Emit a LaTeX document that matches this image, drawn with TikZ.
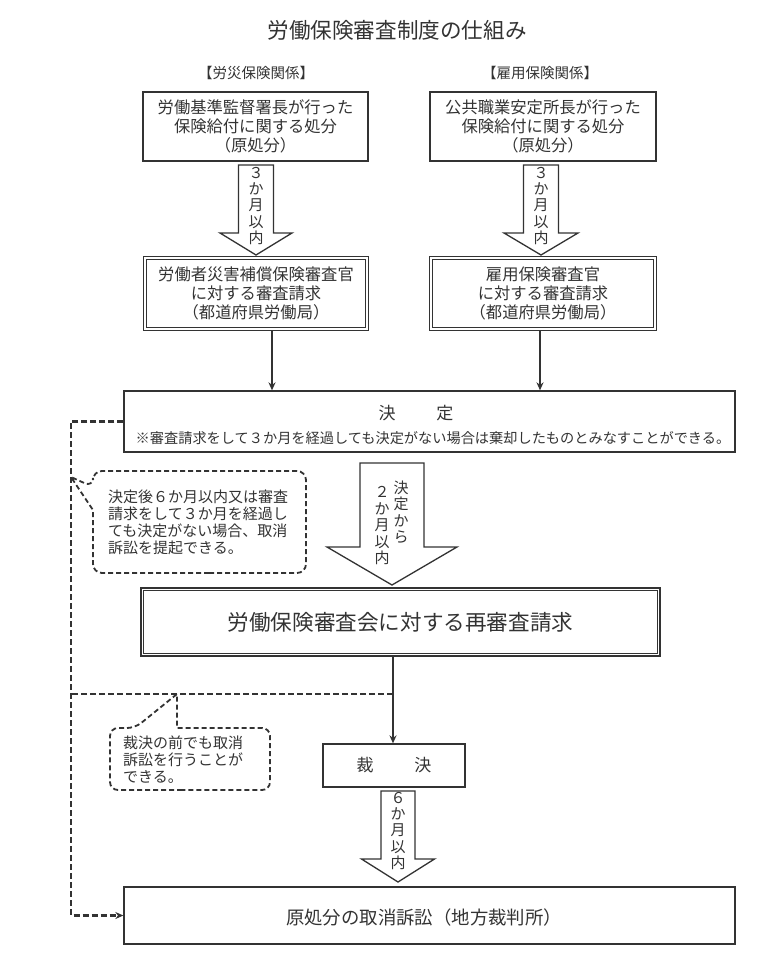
\documentclass[tikz,border=0pt]{standalone}
\usepackage{fontspec}
\setmainfont{Noto Sans CJK JP}
\usetikzlibrary{arrows.meta,calc}
\definecolor{ink}{gray}{0.2}
\tikzset{
 box/.style={draw=ink, line width=1.3pt, inner sep=0pt, align=center, text=ink},
 dbox/.style={draw=ink, line width=1.5pt, inner sep=0pt, align=center, text=ink},
 inner/.style={draw=ink, line width=1pt},
 blk/.style={draw=ink, line width=1.3pt, fill=white, line join=miter},
 conn/.style={draw=ink, line width=2.4pt, -{Stealth[length=8pt,width=7pt]}},
 dashline/.style={draw=ink, line width=2.2pt, dash pattern=on 6pt off 3pt},
 dasharrow/.style={dashline, -{Stealth[length=8pt,width=7pt]}},
 callout/.style={draw=ink, line width=1.8pt, dash pattern=on 5pt off 3pt},
 lbl/.style={inner sep=0pt, text=ink, align=center},
 note/.style={inner sep=0pt, text=ink, align=left, font=\fontsize{15}{17}\selectfont},
 vtext/.style={inner sep=0pt, text=ink, align=center, font=\fontsize{15}{16.3}\selectfont},
 boxfont/.style={font=\fontsize{16.3}{19}\selectfont},
}
\newcommand\blkarrow[6]{%
 \draw[blk] (#1-#4,#2) -- (#1+#4,#2) -- (#1+#4,#3-#6) -- (#1+#5,#3-#6) -- (#1,#3) -- (#1-#5,#3-#6) -- (#1-#4,#3-#6) -- cycle;}
\newcommand\innerframe[1]{%
 \draw[inner] ($(#1.north west)+(3.5,3.5)$) rectangle ($(#1.south east)+(-3.5,-3.5)$);}
\begin{document}
\begin{tikzpicture}[x=1pt,y=-1pt]
\useasboundingbox (0,0) rectangle (778,966);
% title and headers
\node[lbl, font=\fontsize{21.6}{24}\selectfont] (title) at (397,30) {労働保険審査制度の仕組み};
\node[lbl, font=\fontsize{14.5}{17}\selectfont] (h1) at (256,73) {【労災保険関係】};
\node[lbl, font=\fontsize{14.5}{17}\selectfont] (h2) at (540,73) {【雇用保険関係】};
% first row
\node[box, boxfont, minimum width=225pt, minimum height=69pt] (b1) at (255.5,126.5) {労働基準監督署長が行った\\保険給付に関する処分\\（原処分）};
\node[box, boxfont, minimum width=226pt, minimum height=69pt] (b2) at (543,126.5) {公共職業安定所長が行った\\保険給付に関する処分\\（原処分）};
% block arrows 1,2
\blkarrow{256}{165}{255}{17.5}{36}{22}
\blkarrow{541}{165}{255}{17.5}{37}{22}
\node[vtext] (t1) at (256,206) {３\\か\\月\\以\\内};
\node[vtext] (t2) at (541,206) {３\\か\\月\\以\\内};
% second row
\node[dbox, boxfont, minimum width=225pt, minimum height=74pt] (b3) at (256,293.5) {労働者災害補償保険審査官\\に対する審査請求\\（都道府県労働局）};
\innerframe{b3}
\node[dbox, boxfont, minimum width=227pt, minimum height=74pt] (b4) at (543,293.5) {雇用保険審査官\\に対する審査請求\\（都道府県労働局）};
\innerframe{b4}
% decision
\node[box, minimum width=611pt, minimum height=61pt] (dec) at (429.5,421.5) {};
\node[lbl, font=\fontsize{17}{20}\selectfont] (dect) at (416,413) {決\hspace{2.4em}定};
\node[lbl, font=\fontsize{14.2}{16}\selectfont] (decn) at (433,438) {※審査請求をして３か月を経過しても決定がない場合は棄却したものとみなすことができる。};
\coordinate (xl) at (272,0);
\coordinate (xr) at (540,0);
\draw[conn] (b3.south -| xl) -- (dec.north -| xl);
\draw[conn] (b4.south -| xr) -- (dec.north -| xr);
% callout 1
\draw[callout] (200,573) [rounded corners=9pt] -- (306,573) -- (306,471) -- (93,471) -- (93,487) [sharp corners] -- (71,477) -- (93,510) -- (93,515) [rounded corners=9pt] -- (93,573) -- cycle;
\node[note, anchor=west] (c1) at (108,522.5) {決定後６か月以内又は審査\\請求をして３か月を経過し\\ても決定がない場合、取消\\訴訟を提起できる。};
% big arrow
\blkarrow{392}{463}{585}{32}{65}{38}
\node[vtext, font=\fontsize{15}{16.5}\selectfont] (t3a) at (401,512) {決\\定\\か\\ら};
\node[vtext, font=\fontsize{15}{16.5}\selectfont] (t3b) at (382,526) {２\\か\\月\\以\\内};
% re-examination
\node[dbox, minimum width=519pt, minimum height=68pt, font=\fontsize{21.6}{24}\selectfont] (re) at (400.5,622) {労働保険審査会に対する再審査請求};
\innerframe{re}
% saiketsu
\node[box, minimum width=142pt, minimum height=43pt, font=\fontsize{17}{20}\selectfont] (sai) at (394,765.5) {裁\hspace{2.4em}決};
\coordinate (xm) at (393,0);
\draw[conn] (re.south -| xm) -- (sai.north -| xm);
% bottom arrow
\blkarrow{398}{791}{882}{17}{36.5}{23}
\node[vtext] (t4) at (398,831) {６\\か\\月\\以\\内};
% bottom box
\node[box, minimum width=611pt, minimum height=57pt] (bot) at (429.5,915.5) {};
\node[lbl, font=\fontsize{18.4}{21}\selectfont] (bott) at (424,917) {原処分の取消訴訟（地方裁判所）};
% dashed paths
\coordinate (dl) at (71,0);
\coordinate (jn) at (393,694);
\draw[dashline] (jn) -- (jn -| dl);
\draw[dasharrow] (dec.west) -| (dl |- bot.west) -- (bot.west);
% callout 2
\draw[callout] (190,790) [rounded corners=8pt] -- (110,790) -- (110,728) -- (135,728) [sharp corners] -- (177,694) -- (177,728) -- (180,728) [rounded corners=8pt] -- (270,728) -- (270,790) -- cycle;
\node[note, anchor=west] (c2) at (123,760) {裁決の前でも取消\\訴訟を行うことが\\できる。};
\end{tikzpicture}
\end{document}
